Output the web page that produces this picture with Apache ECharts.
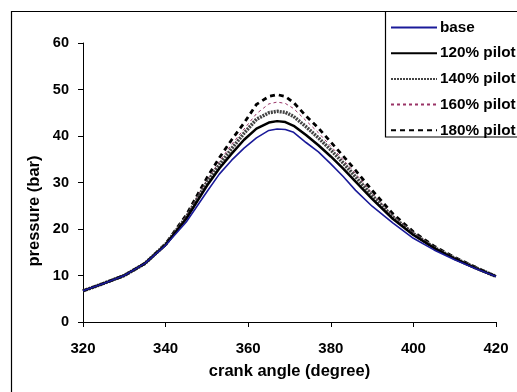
<!DOCTYPE html>
<html>
<head>
<meta charset="utf-8">
<script src="https://cdn.jsdelivr.net/npm/echarts@6/dist/echarts.min.js"></script>
<style>html,body{margin:0;padding:0;background:#fff}#c{width:517px;height:392px}</style>
</head>
<body>
<div id="c"></div>
<script>
var crankAngle = [320, 325, 330, 335, 340, 345, 350, 353, 356, 359, 362, 365, 367, 369, 371, 374, 377, 380, 383, 386, 390, 395, 400, 405, 410, 415, 420];
var base      = [6.7, 8.3, 10.0, 12.6, 16.5, 21.5, 28.0, 31.8, 34.8, 37.4, 39.6, 41.2, 41.5, 41.4, 40.8, 38.6, 36.6, 34.0, 31.3, 28.3, 24.9, 21.3, 18.0, 15.5, 13.4, 11.5, 9.8];
var pilot120  = [6.7, 8.3, 10.0, 12.6, 16.6, 22.2, 29.3, 33.0, 36.2, 39.2, 41.6, 42.9, 43.2, 43.0, 42.2, 40.2, 38.0, 35.6, 33.0, 30.2, 26.5, 22.2, 18.7, 15.9, 13.6, 11.6, 9.8];
var pilot140  = [6.7, 8.3, 10.0, 12.6, 16.7, 22.5, 30.0, 33.8, 37.3, 40.6, 43.6, 45.0, 45.3, 45.1, 44.2, 42.0, 39.6, 37.0, 34.2, 31.2, 27.2, 22.6, 19.0, 16.0, 13.7, 11.7, 9.8];
var pilot160  = [6.7, 8.3, 10.0, 12.6, 16.8, 22.8, 30.5, 34.5, 38.2, 41.5, 44.8, 46.9, 47.3, 47.0, 45.9, 43.3, 40.7, 37.8, 34.9, 31.9, 27.7, 22.9, 19.2, 16.1, 13.8, 11.7, 9.8];
var pilot180  = [6.7, 8.3, 10.0, 12.6, 16.8, 23.0, 31.0, 35.3, 39.2, 42.8, 46.8, 48.5, 48.9, 48.5, 47.2, 44.3, 41.7, 38.7, 35.7, 32.6, 28.3, 23.3, 19.4, 16.3, 13.9, 11.8, 9.8];
var seriesNames = ['base', '120% pilot', '140% pilot', '160% pilot', '180% pilot'];
var xTicks = [320, 340, 360, 380, 400, 420];
var yTicks = [0, 10, 20, 30, 40, 50, 60];

function pairs(ys) { return crankAngle.map(function (x, i) { return [x, ys[i]]; }); }

var FONT = 'Liberation Sans, Arial, sans-serif';
var chart = echarts.init(document.getElementById('c'), null, { renderer: 'canvas' });
chart.setOption({
  animation: false,
  backgroundColor: '#fff',
  grid: { left: 83, right: 21, top: 43, bottom: 70 },
  graphic: [
    { type: 'rect', shape: { x: 11.5, y: 11.5, width: 700, height: 600 }, style: { fill: 'none', stroke: '#000', lineWidth: 1.2 }, z: 0, silent: true },
    { type: 'rect', shape: { x: 385.5, y: 11.5, width: 300, height: 125.5 }, style: { fill: '#fff', stroke: '#000', lineWidth: 1.2 }, z: 1, silent: true },
    { type: 'text', x: 34, y: 211, rotation: Math.PI / 2, style: { text: 'pressure (bar)', font: 'bold 16.5px ' + FONT, fill: '#000', textAlign: 'center', textVerticalAlign: 'middle' }, z: 5, silent: true }
  ],
  legend: {
    orient: 'vertical', left: 390, top: 20, padding: 0,
    itemWidth: 46, itemHeight: 14, itemGap: 10.7,
    data: seriesNames,
    itemStyle: { opacity: 0 },
    textStyle: { fontFamily: FONT, fontWeight: 'bold', fontSize: 15.3, color: '#000', padding: [0, 0, 0, -2] },
    z: 10
  },
  xAxis: {
    type: 'value', min: 320, max: 420, interval: 20,
    name: 'crank angle (degree)', nameLocation: 'middle', nameGap: 41,
    nameTextStyle: { fontFamily: FONT, fontWeight: 'bold', fontSize: 16.5, color: '#000' },
    axisLine: { show: true, lineStyle: { color: '#000', width: 1 } },
    axisTick: { show: true, length: 5, lineStyle: { color: '#000' } },
    axisLabel: { margin: 19, fontFamily: FONT, fontWeight: 'bold', fontSize: 15, color: '#000',
      formatter: function (v) { return xTicks.indexOf(v) >= 0 ? String(v) : ''; } },
    splitLine: { show: false }
  },
  yAxis: {
    type: 'value', min: 0, max: 60, interval: 10,
    axisLine: { show: true, lineStyle: { color: '#000', width: 1 } },
    axisTick: { show: true, length: 5, lineStyle: { color: '#000' } },
    axisLabel: { margin: 14, fontFamily: FONT, fontWeight: 'bold', fontSize: 14.5, color: '#000',
      formatter: function (v) { return yTicks.indexOf(v) >= 0 ? String(v) : ''; } },
    splitLine: { show: false }
  },
  series: [
    { name: seriesNames[0], type: 'line', symbol: 'none', data: pairs(base), z: 6,
      lineStyle: { color: '#1a1a99', width: 1.6, type: 'solid' }, itemStyle: { color: '#1a1a99' } },
    { name: seriesNames[1], type: 'line', symbol: 'none', data: pairs(pilot120), z: 5,
      lineStyle: { color: '#000', width: 2.5, type: 'solid' }, itemStyle: { color: '#000' } },
    { name: seriesNames[2], type: 'line', symbol: 'none', data: pairs(pilot140), z: 4,
      lineStyle: { color: '#444', width: 3.5, type: [2, 1] }, itemStyle: { color: '#444' } },
    { name: seriesNames[3], type: 'line', symbol: 'none', data: pairs(pilot160), z: 3,
      lineStyle: { color: '#993366', width: 1, type: [3, 3] }, itemStyle: { color: '#993366' } },
    { name: seriesNames[4], type: 'line', symbol: 'none', data: pairs(pilot180), z: 2,
      lineStyle: { color: '#000', width: 2.8, type: [5, 4] }, itemStyle: { color: '#000' } }
  ]
});
</script>
</body>
</html>
